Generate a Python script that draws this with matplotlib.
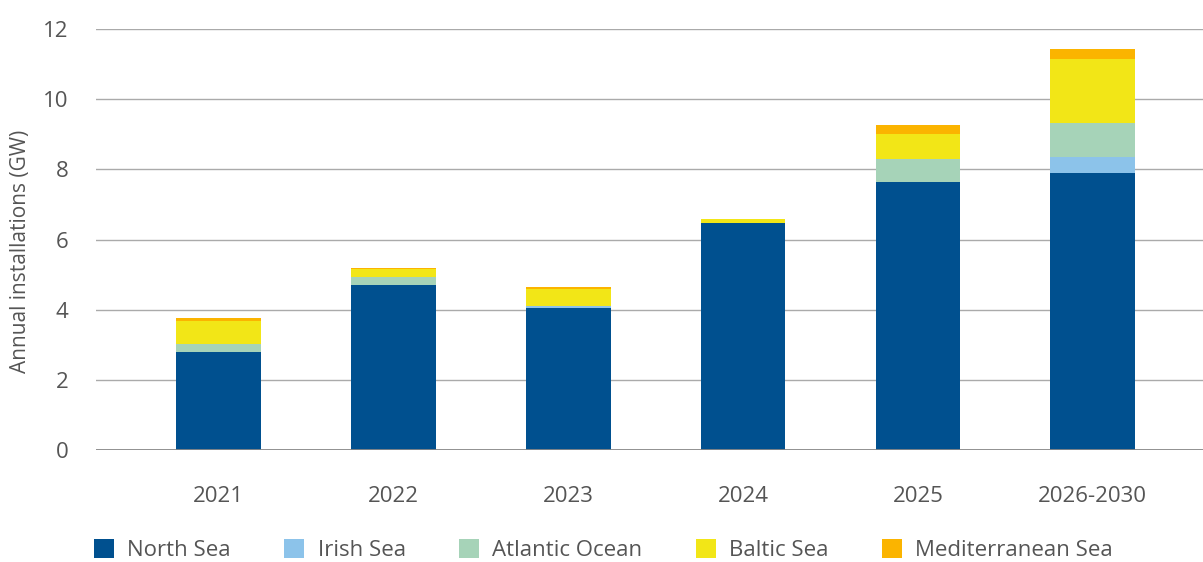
import numpy as np
import matplotlib.pyplot as plt
from matplotlib.patches import Patch

plt.rcParams['font.family'] = ['Open Sans', 'DejaVu Sans']

# Annual offshore wind installations by sea basin (GW)
years = ['2021', '2022', '2023', '2024', '2025', '2026-2030']
north_sea = [2.80, 4.69, 4.04, 6.47, 7.65, 7.89]
irish_sea = [0.00, 0.02, 0.06, 0.00, 0.00, 0.47]
atlantic = [0.23, 0.22, 0.00, 0.00, 0.65, 0.95]
baltic = [0.66, 0.24, 0.50, 0.11, 0.72, 1.84]
mediterranean = [0.06, 0.02, 0.04, 0.00, 0.24, 0.29]

series = [
    ('North Sea', north_sea, '#00508F'),
    ('Irish Sea', irish_sea, '#8CC3EA'),
    ('Atlantic Ocean', atlantic, '#A6D3B8'),
    ('Baltic Sea', baltic, '#F2E617'),
    ('Mediterranean Sea', mediterranean, '#FBB400'),
]

text_col = '#555555'

fig = plt.figure(figsize=(12.03, 5.62), dpi=100)
ax = fig.add_axes([96 / 1203, 1 - 450 / 562, 1 - 96 / 1203, (450 - 29) / 562])

x = np.arange(len(years))
bottom = np.zeros(len(years))
for name, vals, col in series:
    ax.bar(x, vals, width=0.485, bottom=bottom, color=col, zorder=3)
    bottom += np.array(vals)

ax.set_ylim(0, 12)
ax.set_xlim(-0.70, 5.63)
ax.set_yticks(range(0, 13, 2))
ax.yaxis.grid(True, color='#aaaaaa', lw=1, zorder=0)
ax.axhline(0, color='#888888', lw=2, zorder=4)
for s in ax.spines.values():
    s.set_visible(False)

ax.set_xticks(x)
ax.set_xticklabels(years)
ax.tick_params(axis='both', length=0, labelsize=16, colors=text_col)
ax.tick_params(axis='y', pad=20)
ax.tick_params(axis='x', pad=26)

fig.text(21 / 1203, 1 - 251 / 562, 'Annual installations (GW)', rotation=90,
         ha='center', va='center', fontsize=15, color=text_col)

handles = [Patch(facecolor=col, label=name) for name, _, col in series]
fig.legend(handles=handles, loc='center left', bbox_to_anchor=(74 / 1203, 12 / 562),
           ncol=5, frameon=False, fontsize=16, labelcolor=text_col,
           handlelength=0.9, handleheight=0.9, handletextpad=0.6, columnspacing=2.4)

fig.savefig('out.png', dpi=100)
